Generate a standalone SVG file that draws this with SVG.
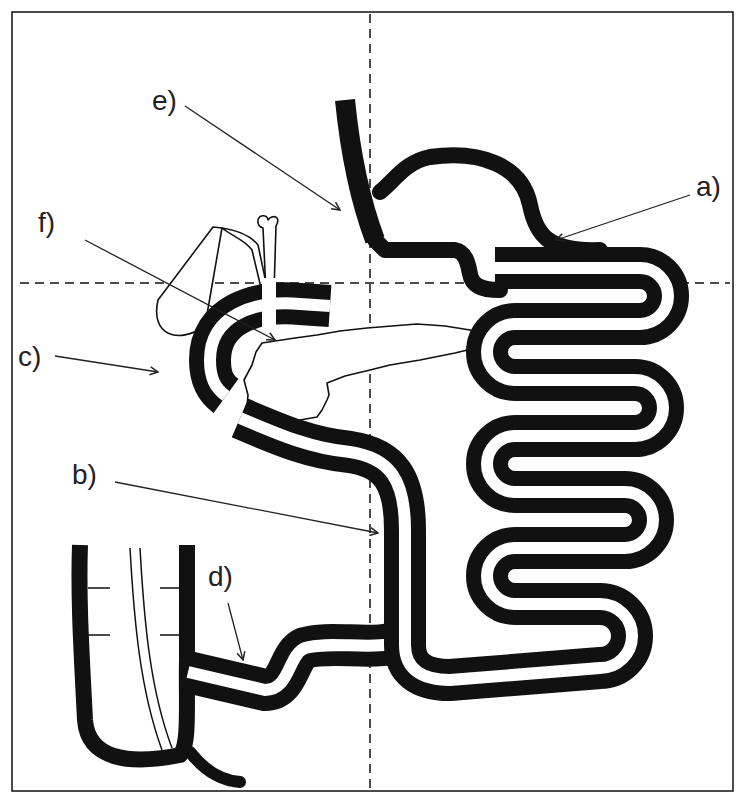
<svg xmlns="http://www.w3.org/2000/svg" width="744" height="800" viewBox="0 0 744 800">
<defs>
<marker id="ah" markerWidth="10" markerHeight="10" refX="9" refY="5" orient="auto" markerUnits="userSpaceOnUse">
<path d="M1,1 L9,5 L1,9" fill="none" stroke="#222" stroke-width="1.5"/>
</marker>
<style>
.tb{fill:none;stroke:#111;stroke-width:42;stroke-linejoin:round;stroke-linecap:butt}
.tw{fill:none;stroke:#fff;stroke-width:12;stroke-linejoin:round;stroke-linecap:butt}
.wall{fill:none;stroke:#111;stroke-width:16;stroke-linejoin:round;stroke-linecap:round}
.thin{fill:#fff;stroke:#111;stroke-width:1.6;stroke-linejoin:round}
.dash{stroke:#111;stroke-width:1.5;stroke-dasharray:9 6}
.arr{stroke:#222;stroke-width:1.3;fill:none;marker-end:url(#ah)}
text{font-family:"Liberation Sans",sans-serif;font-size:28px;fill:#222}
</style>
</defs>
<rect x="12" y="12" width="721" height="779" fill="#fff" stroke="#111" stroke-width="1.5"/>
<g id="guides">
<line class="dash" x1="370" y1="14" x2="370" y2="790"/>
<line class="dash" x1="20" y1="283" x2="730" y2="283"/>
</g>
<g id="colon">
<path d="M80,545 C78,600 82,660 85,720 C88,760 130,765 180,755 C190,745 186,700 187,660 L187,545" fill="none" stroke="#111" stroke-width="16" stroke-linejoin="round"/>
<path d="M190,752 C200,765 215,780 240,782" fill="none" stroke="#111" stroke-width="12" stroke-linecap="round"/>
<path d="M130,548 C134,620 140,690 162,750 M140,548 C144,620 150,690 172,748" fill="none" stroke="#111" stroke-width="1.5"/>
<path d="M88,588 L110,588 M160,588 L182,588 M88,635 L110,635 M160,635 L182,635" stroke="#111" stroke-width="1.5"/>
</g>
<g id="liver">
<path class="thin" d="M213,227 L158,300 C150,335 178,345 205,326 L222,228 Z"/>
<path class="thin" d="M222,228 C232,236 245,240 252,250 L262,292 L268,292 L258,245 C250,235 236,230 222,228 Z"/>
<path class="thin" d="M258,222 C257,214 268,214 268,220 C272,214 282,216 276,226 L274,292 L266,292 L263,228 C260,227 258,225 258,222 Z"/>
</g>
<g id="pancreas">
<path class="thin" d="M262,343 L295,338 L317,335 L340,331 L367,328 L392,326 L417,324 L445,326 L470,330 L480,337 L480,347 L455,353 L420,360 L390,365 L370,370 L345,376 L327,383 L329,395 L327,400 L322,410 L317,417 L300,420 L290,423 L270,416 L247,407 L248,395 L244,380 L252,365 L256,352 Z"/>
</g>
<g id="small-intestine">
<path class="tb" d="M330,306 L300,304 C255,300 210,315 210,360 C210,378 215,388 226,396"/>
<path class="tw" d="M330,306 L300,304 C255,300 210,315 210,360 C210,378 215,388 226,396"/>
<rect x="262" y="278" width="14" height="60" fill="#fff"/>
<path class="tb" d="M405,640 C380,652 330,640 305,648 C288,655 290,690 265,690 L188,672"/>
<path class="tw" d="M405,640 C380,652 330,640 305,648 C288,655 290,690 265,690 L188,672"/>
<path class="tb" d="M240,418 C280,435 310,448 350,452 C390,458 405,480 405,530 L405,645 C405,668 420,680 450,680 L600,668 A32,32 0 0 0 600,604 L515,604 A28,28 0 0 1 515,548 L625,548 A28,28 0 0 0 625,492 L515,492 A28,28 0 0 1 515,436 L635,436 A28,28 0 0 0 635,380 L515,380 A28,28 0 0 1 515,324 L640,324 A28,28 0 0 0 640,268 L495,268"/>
<path class="tw" d="M240,418 C280,435 310,448 350,452 C390,458 405,480 405,530 L405,645 C405,668 420,680 450,680 L600,668 A32,32 0 0 0 600,604 L515,604 A28,28 0 0 1 515,548 L625,548 A28,28 0 0 0 625,492 L515,492 A28,28 0 0 1 515,436 L635,436 A28,28 0 0 0 635,380 L515,380 A28,28 0 0 1 515,324 L640,324 A28,28 0 0 0 640,268 L495,268"/>
</g>
<g id="stomach">
<path d="M345,100 C350,150 360,200 375,240" fill="none" stroke="#111" stroke-width="20"/>
<path class="wall" d="M380,192 C395,180 405,162 430,157 C480,150 522,165 530,205 C536,235 548,252 600,250"/>
<path class="wall" d="M375,240 L385,250 L455,250 C466,252 468,264 470,274 C472,285 480,290 500,290"/>
</g>
<g id="connectors">
<line class="arr" x1="185" y1="106" x2="340" y2="210"/>
<line class="arr" x1="690" y1="195" x2="556" y2="240"/>
<line class="arr" x1="85" y1="240" x2="275" y2="340"/>
<line class="arr" x1="55" y1="356" x2="158" y2="372"/>
<line class="arr" x1="115" y1="482" x2="378" y2="533"/>
<line class="arr" x1="228" y1="603" x2="243" y2="660"/>
</g>
<g id="labels">
<text x="152" y="110">e)</text>
<text x="696" y="196">a)</text>
<text x="38" y="232">f)</text>
<text x="18" y="366">c)</text>
<text x="72" y="484">b)</text>
<text x="208" y="586">d)</text>
</g>
</svg>
